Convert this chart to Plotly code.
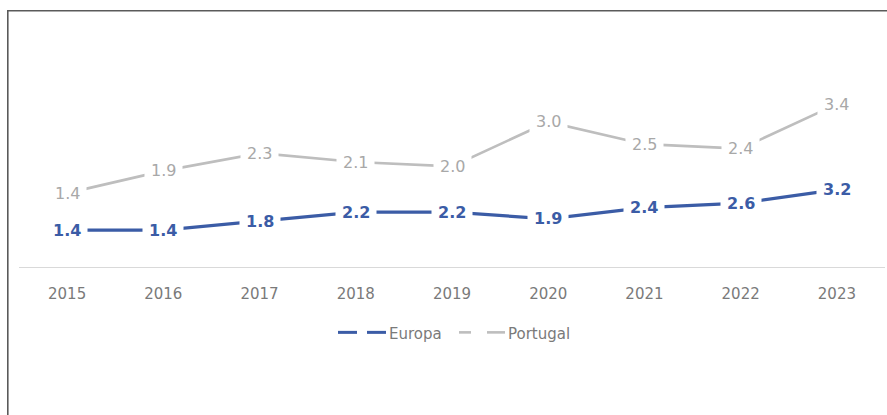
import plotly.graph_objects as go

# Series data
years = ["2015", "2016", "2017", "2018", "2019", "2020", "2021", "2022", "2023"]
europa = [1.4, 1.4, 1.8, 2.2, 2.2, 1.9, 2.4, 2.6, 3.2]
portugal = [1.4, 1.9, 2.3, 2.1, 2.0, 3.0, 2.5, 2.4, 3.4]

BLUE = "#3B5CA6"
GREY_LINE = "#BEBEBE"
GREY_TEXT = "#A8A8A8"
TICK_TEXT = "#7A7A7A"
FONT = "DejaVu Sans"

W, H = 887, 415
ML, MR, MT, MB = 19, 2, 20, 147.5
PW, PH = W - ML - MR, H - MT - MB


def px_x(px):
    return (px - ML) / PW


def px_y(py):
    return (H - MB - py) / PH


fig = go.Figure()
fig.add_trace(go.Scatter(x=years, y=europa, name="Europa", mode="lines",
                         line=dict(color=BLUE, width=3.2), yaxis="y",
                         showlegend=False))
fig.add_trace(go.Scatter(x=years, y=portugal, name="Portugal", mode="lines",
                         line=dict(color=GREY_LINE, width=2.7), yaxis="y2",
                         showlegend=False))

annotations = []
# value labels sit on the points with a white box that breaks the line;
# x is given as the category index so numeric-looking names are not misread
for i, v in enumerate(europa):
    annotations.append(dict(x=i, y=v, xref="x", yref="y", text=f"{v:.1f}",
                            showarrow=False, bgcolor="white", borderpad=6,
                            font=dict(family=FONT, size=16, color=BLUE,
                                      weight="bold")))
for i, v in enumerate(portugal):
    annotations.append(dict(x=i, y=v, xref="x", yref="y2", text=f"{v:.1f}",
                            showarrow=False, bgcolor="white", borderpad=6,
                            font=dict(family=FONT, size=16, color=GREY_TEXT)))

# legend: broken line keys followed by names
shapes = []
leg_y = px_y(333)
for (x0, x1), col, lw in [((338, 357), BLUE, 3), ((367, 386), BLUE, 3),
                          ((459, 471), GREY_LINE, 2.6), ((487, 505), GREY_LINE, 2.6)]:
    shapes.append(dict(type="line", xref="paper", yref="paper",
                       x0=px_x(x0), x1=px_x(x1), y0=leg_y, y1=leg_y,
                       line=dict(color=col, width=lw)))
for name, xpx in [("Europa", 387), ("Portugal", 506)]:
    annotations.append(dict(x=px_x(xpx), y=px_y(335), xref="paper", yref="paper",
                            text=name, showarrow=False, xanchor="left",
                            yanchor="middle",
                            font=dict(family=FONT, size=15, color=TICK_TEXT)))

# frame edges on the left and top
shapes.append(dict(type="line", xref="paper", yref="paper",
                   x0=px_x(7.8), x1=px_x(7.8), y0=px_y(10.5), y1=px_y(416),
                   line=dict(color="#5A5A5A", width=1.6)))
shapes.append(dict(type="line", xref="paper", yref="paper",
                   x0=px_x(7), x1=px_x(888), y0=px_y(10.8), y1=px_y(10.8),
                   line=dict(color="#5A5A5A", width=1.6)))

fig.update_layout(
    width=W, height=H,
    margin=dict(l=ML, r=MR, t=MT, b=MB),
    paper_bgcolor="white", plot_bgcolor="white",
    xaxis=dict(type="category", range=[-0.5, 8.5], showgrid=False,
               showline=True, linecolor="#D9D9D9", linewidth=1.2,
               ticks="", ticklabelstandoff=13,
               tickfont=dict(family=FONT, size=15, color=TICK_TEXT),
               zeroline=False),
    yaxis=dict(range=[-0.244, 10.76], visible=False, fixedrange=True),
    yaxis2=dict(range=[-0.258, 5.29], visible=False, overlaying="y"),
    annotations=annotations,
    shapes=shapes,
    showlegend=False,
)

fig.write_html("out.html")
